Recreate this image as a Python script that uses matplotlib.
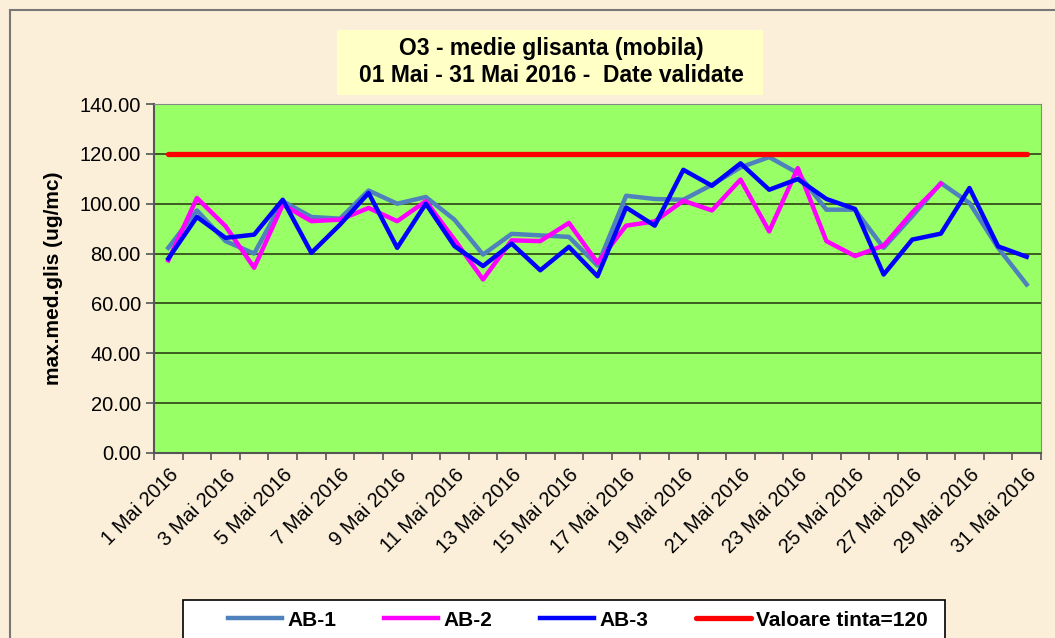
import numpy as np
import matplotlib.pyplot as plt
from matplotlib.patches import Rectangle

# zilele lunii mai 2016
days = [f"{d} Mai 2016" for d in range(1, 32)]

ab1 = [82.3, 97.3, 85.0, 80.0, 101.0, 94.7, 94.0, 105.3, 100.0, 102.7,
       93.6, 79.6, 87.9, 87.3, 86.7, 75.2, 103.2, 101.9, 101.6, 107.6,
       114.6, 118.7, 112.3, 97.6, 97.6, 82.3, 95.0, 108.3, 100.3, 82.3, 67.6]
ab2 = [77.3, 102.3, 91.0, 74.3, 99.6, 93.0, 93.6, 98.3, 93.0, 101.0,
       85.6, 69.6, 85.3, 85.0, 92.3, 76.3, 91.2, 92.9, 101.2, 97.3,
       109.7, 88.9, 114.3, 85.0, 79.0, 83.2, 96.5, 108.0, np.nan, np.nan, np.nan]
ab3 = [78.0, 94.7, 86.3, 87.6, 101.6, 80.3, 91.6, 104.3, 82.3, 100.0,
       83.0, 75.0, 84.0, 73.3, 82.7, 70.9, 98.5, 91.2, 113.6, 107.2,
       116.2, 105.6, 109.9, 101.9, 97.9, 71.6, 85.6, 88.0, 106.3, 82.9, 78.7]
tinta = [120.0] * 31

W, H = 1055, 638
fig = plt.figure(figsize=(W / 100, H / 100), dpi=100)
fig.patch.set_facecolor("#fbefd9")

# chenar exterior
fig.patches.append(Rectangle((10 / W, -0.05), 1.1, 1 - 10 / H + 0.05,
                             transform=fig.transFigure, fill=False,
                             edgecolor="#777777", linewidth=1.5))

ax = fig.add_axes([154 / W, 1 - 453 / H, (1041 - 154) / W, (453 - 104) / H])
ax.set_facecolor("#99ff66")

x = np.arange(len(days))
ax.plot(x, ab1, color="#4f81bd", lw=3.2, label="AB-1", zorder=3)
ax.plot(x, ab2, color="#ff00ff", lw=3.2, label="AB-2", zorder=4)
ax.plot(x, ab3, color="#0000ff", lw=3.2, label="AB-3", zorder=5)
ax.plot(x, tinta, color="#ff0000", lw=3.8, label="Valoare tinta=120", zorder=6,
        solid_capstyle="round")

ax.set_xlim(-0.5, len(days) - 0.5)
ax.set_ylim(0, 140)
ax.set_yticks(np.arange(0, 141, 20))
ax.set_yticklabels([f"{v:.2f}" for v in np.arange(0, 141, 20)],
                   fontsize=14.5, family="Liberation Sans")
ax.yaxis.grid(True, color="#3d5c1f", lw=1.4)
ax.set_axisbelow(True)

ax.set_xticks(np.arange(-0.5, len(days), 1), minor=False)
ax.set_xticklabels([])
ax.set_xticks(x[::2], minor=True)
ax.set_xticklabels(days[::2], minor=True, rotation=45, ha="right",
                   rotation_mode="anchor", fontsize=14.5, family="Liberation Sans")
ax.tick_params(axis="x", which="minor", length=0, pad=9)
ax.tick_params(axis="x", which="major", length=5, color="#555555", width=1.2)
ax.tick_params(axis="y", length=6, color="#555555", width=1.2)

for s in ["top", "right"]:
    ax.spines[s].set_color("#888888")
for s in ["left", "bottom"]:
    ax.spines[s].set_color("#555555")
    ax.spines[s].set_linewidth(1.5)

ax.set_ylabel("max.med.glis (ug/mc)", fontsize=15, fontweight="bold",
              family="Liberation Sans", labelpad=12)

# titlu
fig.patches.append(Rectangle((337 / W, 1 - 95 / H), (763 - 337) / W, 65 / H,
                             transform=fig.transFigure, facecolor="#ffffc6",
                             edgecolor="none"))
fig.text(551 / W, 1 - 62 / H, "O3 - medie glisanta (mobila)\n01 Mai - 31 Mai 2016 -  Date validate",
         ha="center", va="center", fontsize=16.5, fontweight="bold",
         family="Liberation Sans", linespacing=1.2)

# legenda
fig.patches.append(Rectangle((183 / W, -0.05), (945 - 183) / W, 0.05 + 1 - 600 / H,
                             transform=fig.transFigure, facecolor="white",
                             edgecolor="black", linewidth=1.2))
fig.legend(loc="center left", bbox_to_anchor=(209 / W, 1 - 620 / H), ncol=4,
           frameon=False, prop={"family": "Liberation Sans", "weight": "bold", "size": 15},
           handlelength=2.6, columnspacing=2.3, handletextpad=0.25)

fig.savefig("out.png", dpi=100, facecolor=fig.get_facecolor())
